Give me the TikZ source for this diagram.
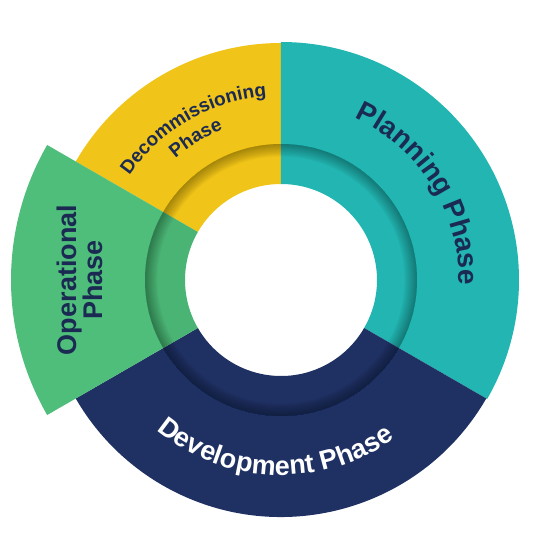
\documentclass[tikz,border=0pt]{standalone}
\usepackage{fontspec}
\setmainfont{Liberation Sans}
\usetikzlibrary{decorations.text}
\definecolor{cTeal}{HTML}{22B5B1}
\definecolor{cYellow}{HTML}{F0C418}
\definecolor{cGreen}{HTML}{4FBE7B}
\definecolor{cNavy}{HTML}{1F3163}
\definecolor{cText}{HTML}{1B2A52}
\newcommand\ringsector[5]{%
  \fill[#1] (#2:#4pt) arc[start angle=#2, end angle=#3, radius=#4pt]
    -- (#3:#5pt) arc[start angle=#3, end angle=#2, radius=#5pt] -- cycle;}
\tikzset{
  arctext/.style n args={3}{decorate, decoration={text along path,
      text={|\fontsize{#2}{#2}\selectfont\bfseries|#1}, text align=center, text color=#3}},
}
\begin{document}
\begin{tikzpicture}
\useasboundingbox (-281pt,-280pt) rectangle (279pt,280pt);
% sectors
\ringsector{cYellow}{90}{150}{96}{237}
\ringsector{cTeal}{-30}{90}{96}{238}
\ringsector{cNavy}{210}{330}{96}{237}
\ringsector{cGreen}{150}{210}{96}{270}
% green band slightly darker
\ringsector{black,opacity=0.05}{150}{210}{96}{136}
% inner groove: shadow along the outer edge of the band
\foreach \k in {1,...,14}{
  \pgfmathsetmacro\rr{136-\k*0.9}
  \fill[black, opacity=0.024, even odd rule] (0,0) circle (136pt) (0,0) circle (\rr pt);
}
% labels
\path[arctext={Planning Phase}{28}{cText}] (72:178pt) arc[start angle=72, end angle=-8, radius=178pt];
\path[arctext={Development Phase}{27}{white}] (228:195pt) arc[start angle=228, end angle=308, radius=195pt];
\path[arctext={Decommissioning}{19}{cText}] (150:184pt) arc[start angle=150, end angle=90, radius=184pt];
\path[arctext={Phase}{19}{cText}] (150:161pt) arc[start angle=150, end angle=92, radius=161pt];
\node[rotate=90, text=cText, font=\fontsize{27}{26}\selectfont\bfseries, align=center] (oper) at (-201pt,0pt) {Operational\\Phase};
\end{tikzpicture}
\end{document}
